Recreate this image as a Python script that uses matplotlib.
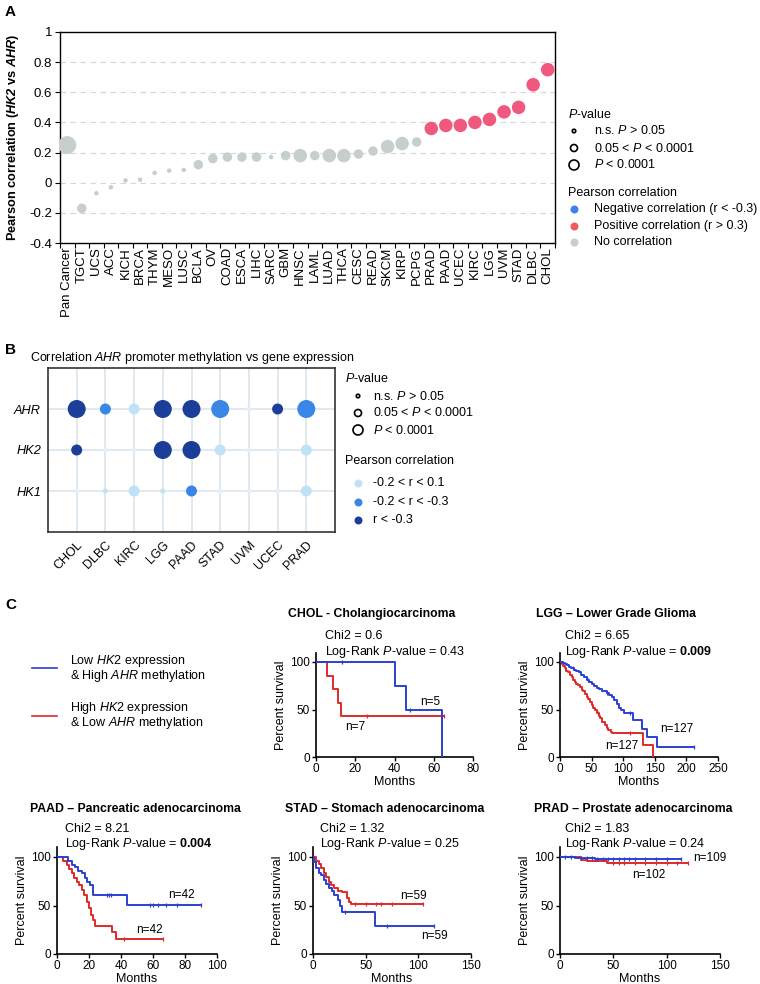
import numpy as np
import matplotlib
matplotlib.use("Agg")
import matplotlib.pyplot as plt
from matplotlib.transforms import ScaledTranslation

plt.rcParams['font.family'] = ['Liberation Sans', 'DejaVu Sans']
plt.rcParams['mathtext.fontset'] = 'custom'
plt.rcParams['mathtext.rm'] = 'Liberation Sans'
plt.rcParams['mathtext.it'] = 'Liberation Sans:italic'
plt.rcParams['mathtext.bf'] = 'Liberation Sans:bold'
try:
    plt.rcParams['mathtext.bfit'] = 'Liberation Sans:bold:italic'
except KeyError:
    pass

# ---------------- panel A data ----------------
cancers_a = ["Pan Cancer", "TGCT", "UCS", "ACC", "KICH", "BRCA", "THYM", "MESO", "LUSC",
             "BCLA", "OV", "COAD", "ESCA", "LIHC", "SARC", "GBM", "HNSC", "LAML", "LUAD",
             "THCA", "CESC", "READ", "SKCM", "KIRP", "PCPG", "PRAD", "PAAD", "UCEC", "KIRC",
             "LGG", "UVM", "STAD", "DLBC", "CHOL"]
r_a = [0.25, -0.17, -0.07, -0.03, 0.015, 0.02, 0.065, 0.08, 0.085,
       0.12, 0.16, 0.17, 0.17, 0.17, 0.17, 0.18, 0.18, 0.18, 0.18,
       0.18, 0.19, 0.21, 0.24, 0.26, 0.27, 0.36, 0.38, 0.38, 0.40,
       0.42, 0.47, 0.50, 0.65, 0.75]
# p-value class: 0 n.s., 1 mid, 2 strong, 3 pan-cancer
pcls_a = [3, 1, 0, 0, 0, 0, 0, 0, 0,
          1, 1, 1, 1, 1, 0, 1, 2, 1, 2,
          2, 1, 1, 2, 2, 1, 2, 2, 2, 2,
          2, 2, 2, 2, 2]
yticks_a = [-0.4, -0.2, 0, 0.2, 0.4, 0.6, 0.8, 1]
ytick_labels_a = ["-0.4", "-0.2", "0", "0.2", "0.4", "0.6", "0.8", "1"]

# ---------------- panel B data ----------------
genes_b = ["AHR", "HK2", "HK1"]
cancers_b = ["CHOL", "DLBC", "KIRC", "LGG", "PAAD", "STAD", "UVM", "UCEC", "PRAD"]
pcls_ahr = [2, 1, 1, 2, 2, 2, 0, 1, 2]
pcls_hk2 = [1, 0, 0, 2, 2, 1, 0, 0, 1]
pcls_hk1 = [0, 0, 1, 0, 1, 0, 0, 0, 1]
# correlation class: 0 ~0, 1 light, 2 mid, 3 strong negative
rcls_ahr = [3, 2, 1, 3, 3, 2, 0, 3, 2]
rcls_hk2 = [3, 0, 0, 3, 3, 1, 0, 0, 1]
rcls_hk1 = [0, 1, 1, 1, 2, 0, 0, 0, 1]

# ---------------- panel C data (Kaplan-Meier steps) ----------------
chol_blue_t = [0, 40, 46, 64]
chol_blue_s = [100, 75, 50, 0]
chol_blue_c = [13, 48]
chol_red_t = [0, 5.5, 8.7, 11, 12.7]
chol_red_s = [100, 85.7, 71.4, 57.1, 42.9]
chol_red_c = [26, 65]

lgg_blue_t = [0, 4, 8, 11, 15, 18, 22, 26, 30, 34, 38, 42, 46, 50, 54, 58, 62, 66, 70,
              74, 78, 82, 86, 90, 94, 97, 101, 116, 130, 138, 153]
lgg_blue_s = [100, 99, 98, 97, 95, 94, 92, 91, 89, 86, 84, 81, 79, 77, 75, 73, 72, 70, 69,
              67, 65, 63, 60, 56, 52, 49, 46, 39, 30, 21, 11]
lgg_blue_c = [20, 45, 75, 110, 212]
lgg_red_t = [0, 3, 5, 8, 10, 13, 16, 19, 21, 24, 26, 29, 32, 35, 37, 40, 42, 45, 47, 50,
             53, 56, 58, 61, 63, 67, 71, 74, 76, 80, 82, 131, 147]
lgg_red_s = [100, 98, 96, 94, 91, 89, 86, 84, 81, 79, 77, 76, 74, 71, 69, 66, 63, 61, 58, 55,
             52, 49, 46, 43, 41, 37, 34, 31, 28, 26, 25, 12.5, 0]
lgg_red_c = [60, 110]

paad_blue_t = [0, 7, 9.2, 11.3, 13.4, 15.5, 17.6, 19, 20.6, 22.7, 43.5]
paad_blue_s = [100, 96, 92, 89.5, 86, 84, 78.5, 74.5, 71, 60.5, 51]
paad_blue_c = [31, 32.5, 34, 58, 60, 63, 68, 75, 90]
paad_red_t = [0, 4, 6.1, 7.7, 9.2, 10.6, 12.3, 14, 15.5, 17, 18.6, 19.8, 21.1, 22.3, 23.8, 34.2, 36.9]
paad_red_s = [100, 95.5, 91.5, 88, 83, 78, 74.5, 71, 66, 60.5, 54, 47, 40, 35, 29, 23, 15]
paad_red_c = [42, 66]

stad_blue_t = [0, 1, 3, 5.7, 7.9, 10, 12.6, 15, 17.6, 20, 23.6, 26, 27.7, 59]
stad_blue_s = [100, 95, 89, 84, 81, 76, 72, 68, 65, 61, 56, 49, 43, 29]
stad_blue_c = [30, 70, 115]
stad_red_t = [0, 3, 5.7, 7.9, 10, 12.6, 15, 17.3, 20.4, 23.6, 27.7, 32, 34.6, 36]
stad_red_s = [100, 96, 93, 89, 84, 79, 74, 71, 68, 65, 63.5, 58, 54, 51.5]
stad_red_c = [40, 50, 60, 65, 75, 104]

prad_blue_t = [0, 14, 33]
prad_blue_s = [100, 99, 98]
prad_blue_c = [5, 10, 20, 25, 30, 35, 40, 45, 50, 55, 60, 65, 70, 80, 90, 100, 113]
prad_red_t = [0, 20, 25, 43.7]
prad_red_s = [100, 97, 96, 94]
prad_red_c = [50, 55, 60, 70, 80, 90, 100, 110, 120]

# ---------------- styling ----------------
W, H = 760, 984
GRAY = "#c6cfcc"
PINK = "#f0587e"
BLUE_LEG = "#3b82ea"
RED_LEG = "#ef5a62"
B_COLORS = ["#e3f0f9", "#c0e2f6", "#3a86e6", "#1b3f99"]
KM_BLUE = "#2b40d2"
KM_RED = "#e02a2a"

fig = plt.figure(figsize=(W / 100, H / 100), dpi=100)


def add_ax(l, t, r, b):
    return fig.add_axes([l / W, 1 - b / H, (r - l) / W, (b - t) / H])


def area(d_px):
    return (d_px * 0.72) ** 2


over = fig.add_axes([0, 0, 1, 1], zorder=10)
over.set_xlim(0, W)
over.set_ylim(H, 0)
over.axis("off")

# ---------------- panel A ----------------
axA = add_ax(60, 32, 555, 243)
xa = np.arange(len(cancers_a))
size_a = {0: 4.5, 1: 9.5, 2: 13.5, 3: 18}
cols_a = [PINK if r > 0.3 else GRAY for r in r_a]
axA.scatter(xa, r_a, s=[area(size_a[c]) for c in pcls_a], c=cols_a, linewidths=0, zorder=3)
for y in yticks_a[1:-1]:
    axA.axhline(y, color="#d6d6d6", lw=0.8, ls=(0, (5, 4)), zorder=1)
axA.set_xlim(-0.5, len(cancers_a) - 0.5)
axA.set_ylim(-0.4, 1)
axA.set_yticks(yticks_a)
axA.set_yticklabels(ytick_labels_a, fontsize=9.5)
axA.set_xticks(xa)
axA.set_xticklabels(cancers_a, rotation=90, fontsize=9.5)
axA.set_xticks(np.arange(-0.5, len(cancers_a), 1), minor=True)
axA.tick_params(axis="x", which="major", length=0, pad=3)
axA.tick_params(axis="x", which="minor", length=3.5, width=0.8)
axA.tick_params(axis="y", length=3.5, width=0.8, pad=2)
for sp in axA.spines.values():
    sp.set_linewidth(1.0)
axA.set_ylabel(r"Pearson correlation ($\mathbfit{HK2}$ vs $\mathbfit{AHR}$)",
               fontsize=9.2, fontweight="bold", labelpad=6)

# legend A
over.text(568, 114, "$P$-value", fontsize=9, va="center")
for yy, d, lab in [(131, 3.5, "n.s. $P$ > 0.05"), (148, 7, "0.05 < $P$ < 0.0001"),
                   (165, 10, "$P$ < 0.0001")]:
    over.scatter([574], [yy], s=area(d), facecolors="none", edgecolors="black", linewidths=1.2)
    over.text(594, yy, lab, fontsize=9, va="center")
over.text(568, 193, "Pearson correlation", fontsize=9, va="center")
for yy, c, lab in [(209, BLUE_LEG, "Negative correlation (r < -0.3)"),
                   (226, RED_LEG, "Positive correlation (r > 0.3)"),
                   (242, GRAY, "No correlation")]:
    over.scatter([574], [yy], s=area(8), c=c, linewidths=0)
    over.text(594, yy, lab, fontsize=9, va="center")

# ---------------- panel B ----------------
axB = add_ax(48, 368, 335, 532)
size_b = {0: 5, 1: 11, 2: 18}
for yrow, pc, rc in [(2, pcls_ahr, rcls_ahr), (1, pcls_hk2, rcls_hk2), (0, pcls_hk1, rcls_hk1)]:
    xb = np.arange(len(cancers_b))
    axB.scatter(xb, [yrow] * len(xb), s=[area(size_b[p]) for p in pc],
                c=[B_COLORS[r] for r in rc], linewidths=0, zorder=3)
for i in range(len(cancers_b)):
    axB.axvline(i, color="#dde7ef", lw=1.3, zorder=1)
for j in range(len(genes_b)):
    axB.axhline(j, color="#dde7ef", lw=1.3, zorder=1)
axB.set_xlim(-1, len(cancers_b))
axB.set_ylim(-1, len(genes_b))
axB.set_xticks(np.arange(len(cancers_b)))
axB.set_xticklabels(cancers_b, rotation=45, ha="right", rotation_mode="anchor", fontsize=9)
shift = ScaledTranslation(6 / 72, 0, fig.dpi_scale_trans)
for lab in axB.get_xticklabels():
    lab.set_transform(lab.get_transform() + shift)
axB.set_yticks([2, 1, 0])
axB.set_yticklabels(genes_b, fontsize=9.2, style="italic")
axB.tick_params(length=0, pad=5)
for sp in axB.spines.values():
    sp.set_linewidth(1.2)
    sp.set_color("#333333")
over.text(192, 358, r"Correlation $\mathit{AHR}$ promoter methylation vs gene expression",
          fontsize=9, ha="center", va="center")

over.text(345, 379, "$P$-value", fontsize=9, va="center")
for yy, d, lab in [(396, 3.5, "n.s. $P$ > 0.05"), (413, 7, "0.05 < $P$ < 0.0001"),
                   (430, 10, "$P$ < 0.0001")]:
    over.scatter([358], [yy], s=area(d), facecolors="none", edgecolors="black", linewidths=1.2)
    over.text(373, yy, lab, fontsize=9, va="center")
over.text(345, 461, "Pearson correlation", fontsize=9, va="center")
for yy, c, lab in [(483, B_COLORS[1], "-0.2 < r < 0.1"), (502, B_COLORS[2], "-0.2 < r < -0.3"),
                   (520, B_COLORS[3], "r < -0.3")]:
    over.scatter([358], [yy], s=area(8), c=c, linewidths=0)
    over.text(373, yy, lab, fontsize=9, va="center")

# ---------------- panel C ----------------
def km_curve(ax, t, s, cens, color):
    end = max(t[-1], max(cens))
    ax.step(list(t) + [end], list(s) + [s[-1]], where="post", color=color, lw=1.4, zorder=3)
    tt = np.array(t)
    ys = [s[np.searchsorted(tt, c, side="right") - 1] for c in cens]
    ax.plot(cens, ys, ls="none", marker="|", ms=3.5, mew=0.9, color=color, zorder=4)


def km_axes(l, b, r, xmax, xstep, px100):
    ax = add_ax(l, b - 1.1 * px100, r, b)
    ax.set_xlim(0, xmax)
    ax.set_ylim(0, 110)
    ax.set_yticks([0, 50, 100])
    ax.set_xticks(np.arange(0, xmax + 1, xstep))
    ax.spines["top"].set_visible(False)
    ax.spines["right"].set_visible(False)
    for sp in ax.spines.values():
        sp.set_linewidth(1.2)
    ax.tick_params(length=3, width=1.0, labelsize=8.5, pad=1.5)
    ax.set_ylabel("Percent survival", fontsize=9, labelpad=2)
    ax.set_xlabel("Months", fontsize=9, labelpad=0.5)
    return ax


panels = [
    (316, 757, 473, 80, 20, 95, chol_blue_t, chol_blue_s, chol_blue_c, chol_red_t, chol_red_s, chol_red_c,
     [("n=5", 58, 58), ("n=7", 20, 31.5)]),
    (560, 757, 718, 250, 50, 95, lgg_blue_t, lgg_blue_s, lgg_blue_c, lgg_red_t, lgg_red_s, lgg_red_c,
     [("n=127", 185, 29.5), ("n=127", 98, 11.5)]),
    (57, 954, 217, 100, 20, 97, paad_blue_t, paad_blue_s, paad_blue_c, paad_red_t, paad_red_s, paad_red_c,
     [("n=42", 78, 61), ("n=42", 57.5, 24.5)]),
    (313, 954, 471, 150, 50, 97, stad_blue_t, stad_blue_s, stad_blue_c, stad_red_t, stad_red_s, stad_red_c,
     [("n=59", 95, 60), ("n=59", 115, 19)]),
    (560, 954, 720, 150, 50, 97, prad_blue_t, prad_blue_s, prad_blue_c, prad_red_t, prad_red_s, prad_red_c,
     [("n=109", 140, 98.5), ("n=102", 83, 81.5)]),
]
for (l, b, r, xmax, xstep, px100, bt, bs, bc, rt, rs, rc, labs) in panels:
    ax = km_axes(l, b, r, xmax, xstep, px100)
    km_curve(ax, rt, rs, rc, KM_RED)
    km_curve(ax, bt, bs, bc, KM_BLUE)
    for txt, xx, yy in labs:
        ax.text(xx, yy, txt, fontsize=8.5, ha="center", va="center")

titles = [("CHOL - Cholangiocarcinoma", 372, 614, 325, 636, "Chi2 = 0.6", "0.43", False),
          ("LGG \u2013 Lower Grade Glioma", 616, 614, 565, 636, "Chi2 = 6.65", "0.009", True),
          ("PAAD \u2013 Pancreatic adenocarcinoma", 135, 809, 65, 829, "Chi2 = 8.21", "0.004", True),
          ("STAD \u2013 Stomach adenocarcinoma", 385, 809, 320, 829, "Chi2 = 1.32", "0.25", False),
          ("PRAD \u2013 Prostate adenocarcinoma", 633, 809, 565, 829, "Chi2 = 1.83", "0.24", False)]
for ttl, tx, ty, cx, cy, chi, pv, bold in titles:
    over.text(tx, ty, ttl, fontsize=8.8, fontweight="bold", ha="center", va="center")
    over.text(cx, cy, chi, fontsize=9, va="center")
    pv_txt = r"$\mathbf{%s}$" % pv if bold else pv
    over.text(cx, cy + 15.5, "Log-Rank $P$-value = " + pv_txt, fontsize=9, va="center")

# legend C
over.plot([32, 57], [668, 668], color=KM_BLUE, lw=1.2)
over.text(70, 661, r"Low $\mathit{HK2}$ expression", fontsize=9, va="center")
over.text(70, 676, r"& High $\mathit{AHR}$ methylation", fontsize=9, va="center")
over.plot([32, 57], [716, 716], color=KM_RED, lw=1.2)
over.text(70, 708, r"High $\mathit{HK2}$ expression", fontsize=9, va="center")
over.text(70, 723, r"& Low $\mathit{AHR}$ methylation", fontsize=9, va="center")

# panel letters
for lt, x, y in [("A", 5, 12), ("B", 5, 350), ("C", 5, 605)]:
    over.text(x, y, lt, fontsize=11, fontweight="bold", va="center")

fig.savefig("out.png", dpi=100)
